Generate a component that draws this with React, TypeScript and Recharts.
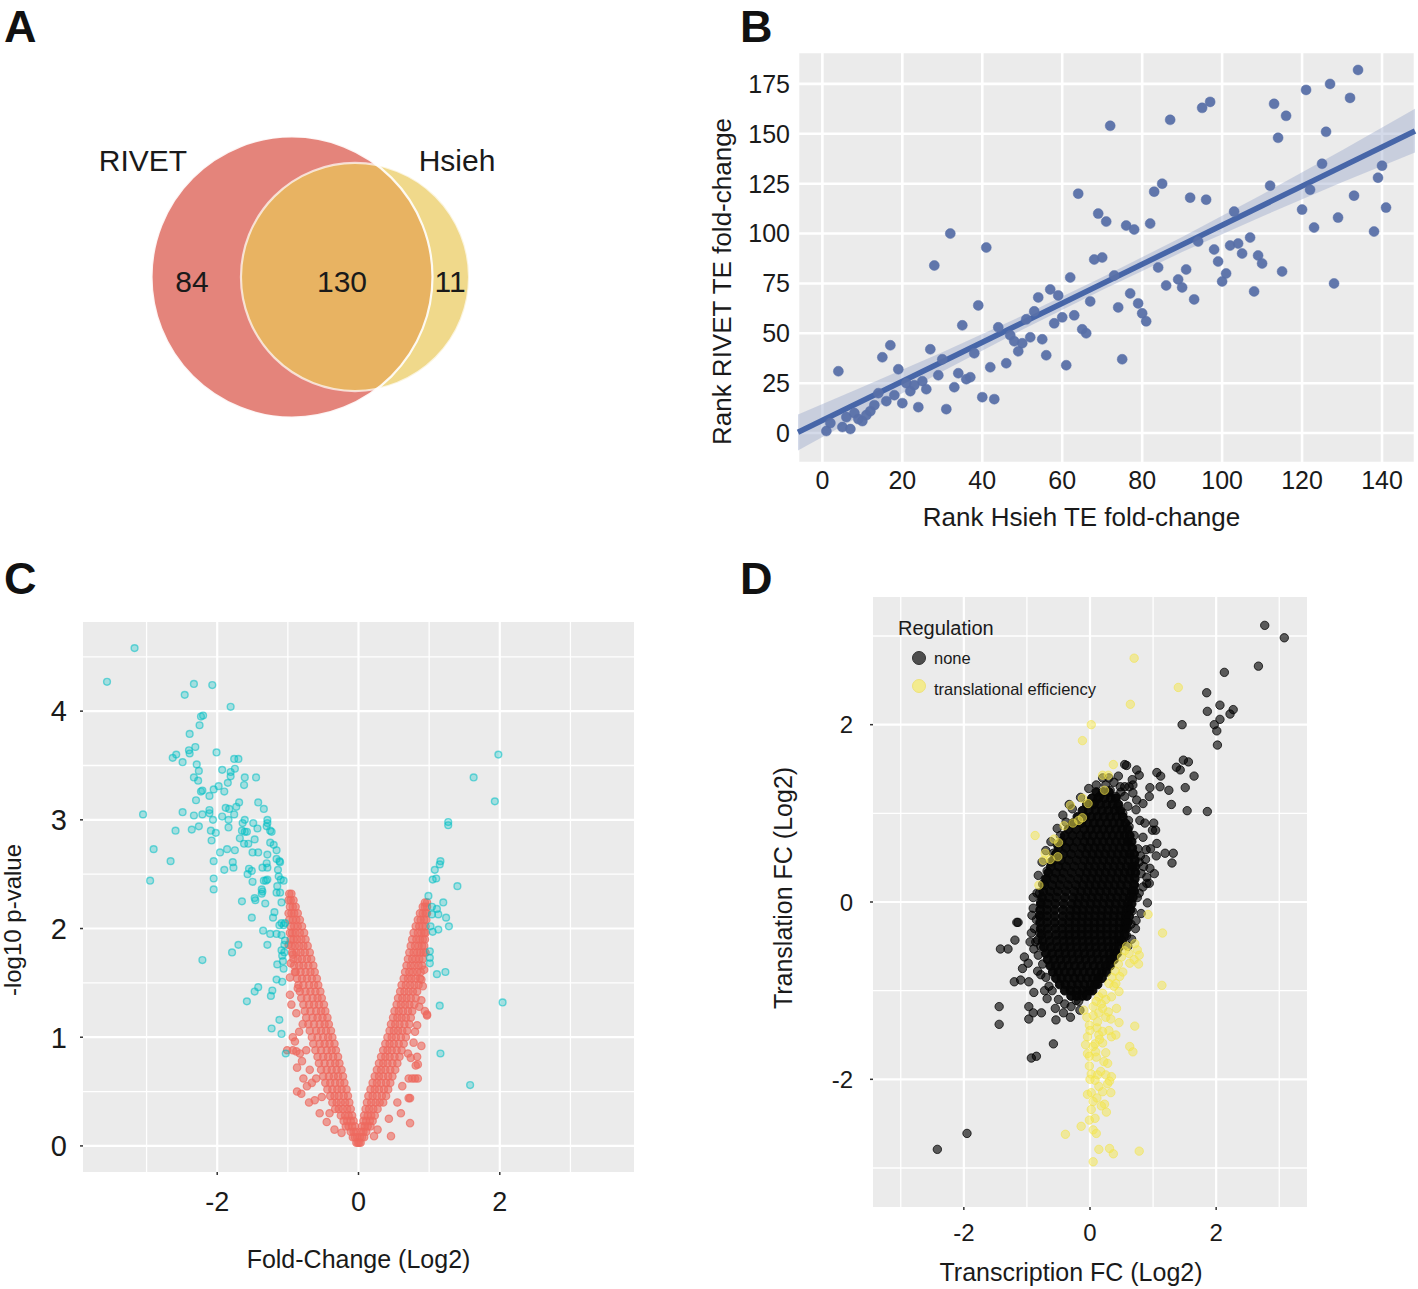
import React from 'react'
import {
  ScatterChart,
  Scatter,
  ComposedChart,
  Area,
  Line,
  XAxis,
  YAxis,
  ZAxis,
  CartesianGrid,
  Legend,
} from 'recharts'

const FONT = '"Liberation Sans", Arial, Helvetica, sans-serif'
const INK = '#1a1a1a'
const PANEL_BG = '#EBEBEB'

// ---------- A: Venn (set sizes and layout)
const vennSets = [
  { name: 'RIVET', size: 214, x: 0, y: 0 },
  { name: 'Hsieh', size: 141, x: 63, y: 0 },
]
const vennNames = [
  { label: 'RIVET', x: -149, y: 117 },
  { label: 'Hsieh', x: 165, y: 117 },
]
const vennCounts = [
  { label: '84', x: -100, y: -4 },
  { label: '130', x: 50, y: -4 },
  { label: '11', x: 158, y: -4 },
]

// ---------- B: rank vs rank  [Hsieh rank, RIVET rank]
const rankPairs = [
  [1, 1], [2, 5], [4, 31], [5, 3], [6, 8], [7, 2], [8, 10], [9, 7], [10, 6], [11, 9], [12, 11], [13, 14],
  [14, 20], [15, 38], [16, 16], [17, 44], [18, 19], [19, 32], [20, 15], [21, 25], [22, 21], [23, 24],
  [24, 13], [25, 26], [26, 22], [27, 42], [28, 84], [29, 29], [30, 37], [31, 12], [32, 100], [33, 23],
  [34, 30], [35, 54], [36, 27], [37, 28], [38, 40], [39, 64], [40, 18], [41, 93], [42, 33], [43, 17],
  [44, 53], [46, 35], [47, 49], [48, 46], [49, 41], [50, 45], [51, 57], [52, 48], [53, 61], [54, 68],
  [55, 47], [56, 39], [57, 72], [58, 55], [59, 69], [60, 58], [61, 34], [62, 78], [63, 59], [64, 120],
  [65, 52], [66, 50], [67, 66], [68, 87], [69, 110], [70, 88], [71, 106], [72, 154], [73, 79], [74, 63],
  [75, 37], [76, 104], [77, 70], [78, 102], [79, 65], [80, 60], [81, 56], [82, 105], [83, 121], [84, 83],
  [85, 125], [86, 74], [87, 157], [89, 77], [90, 73], [91, 82], [92, 118], [93, 67], [94, 96], [95, 163],
  [96, 117], [97, 166], [98, 92], [99, 86], [100, 76], [101, 80], [102, 94], [103, 111], [104, 95],
  [105, 90], [107, 98], [108, 71], [109, 89], [110, 85], [112, 124], [113, 165], [114, 148], [115, 81],
  [116, 159], [120, 112], [121, 172], [122, 122], [123, 103], [125, 135], [126, 151], [127, 175],
  [128, 75], [129, 108], [132, 168], [133, 119], [134, 182], [138, 101], [139, 128], [140, 134], [141, 113],
]
const fitX = [-6.1, 148.25]
const fitY = [0.4, 151.4]
const bandX = [-6.1, 10, 30, 50, 70, 90, 110, 130, 148.25]
const bandLo = [-8.7, 9.1, 30.9, 51.8, 71.7, 90.7, 108.6, 125.7, 140.6]
const bandHi = [9.3, 23.1, 40.5, 58.8, 78.1, 98.3, 119.6, 141.7, 162.6]
const rankTicksX = [0, 20, 40, 60, 80, 100, 120, 140]
const rankTicksY = [0, 25, 50, 75, 100, 125, 150, 175]

// ---------- C: volcano   significant (teal) and not significant (red)
const sigLeft = [
  [-3.17, 4.58], [-3.56, 4.27], [-2.33, 4.25], [-2.07, 4.24], [-2.46, 4.15], [-1.81, 4.04], [-2.23, 3.95],
  [-2.2, 3.96], [-2.25, 3.87], [-2.39, 3.79], [-2.31, 3.67], [-2.4, 3.64], [-2.39, 3.61], [-2.63, 3.57],
  [-2.58, 3.6], [-2.49, 3.53], [-2.01, 3.62], [-1.76, 3.56], [-1.7, 3.56], [-2.29, 3.51], [-2.26, 3.45],
  [-1.93, 3.46], [-1.81, 3.44], [-1.75, 3.47], [-1.81, 3.4], [-2.33, 3.39], [-2.27, 3.36], [-1.61, 3.39],
  [-1.62, 3.32], [-1.45, 3.39], [-1.85, 3.34], [-2.21, 3.27], [-2.23, 3.26], [-2.11, 3.22], [-2.05, 3.28],
  [-1.98, 3.31], [-1.9, 3.26], [-2.3, 3.18], [-1.42, 3.16], [-1.34, 3.1], [-1.69, 3.16], [-1.73, 3.12],
  [-1.88, 3.11], [-1.83, 3.1], [-1.76, 3.05], [-1.93, 3.03], [-1.84, 3.0], [-2.11, 3.09], [-2.11, 3.06],
  [-2.21, 3.05], [-2.33, 3.04], [-2.49, 3.07], [-3.05, 3.05], [-2.06, 3.0], [-1.61, 3.0], [-1.64, 2.97],
  [-1.49, 2.97], [-1.29, 3.0], [-1.29, 2.97], [-1.3, 2.94], [-1.25, 2.9], [-1.23, 2.89], [-1.43, 2.92],
  [-1.65, 2.9], [-1.61, 2.89], [-1.58, 2.89], [-1.84, 2.93], [-2.26, 2.94], [-2.36, 2.91], [-2.59, 2.9],
  [-2.09, 2.9], [-2.02, 2.88], [-2.08, 2.81], [-1.68, 2.83], [-1.47, 2.82], [-1.62, 2.78], [-1.56, 2.78],
  [-1.25, 2.79], [-1.2, 2.77], [-1.16, 2.72], [-2.9, 2.73], [-2.66, 2.62], [-1.96, 2.7], [-1.86, 2.73],
  [-1.75, 2.72], [-1.5, 2.7], [-1.42, 2.7], [-1.29, 2.68], [-1.16, 2.64], [-1.12, 2.62], [-1.11, 2.61],
  [-2.05, 2.62], [-1.78, 2.61], [-1.77, 2.56], [-1.9, 2.54], [-1.36, 2.56], [-1.3, 2.6], [-1.29, 2.56],
  [-1.55, 2.55], [-1.51, 2.53], [-1.57, 2.5], [-1.14, 2.54], [-1.13, 2.48], [-1.1, 2.45], [-1.06, 2.44],
  [-2.95, 2.44], [-2.05, 2.46], [-2.05, 2.36], [-1.5, 2.43], [-1.34, 2.44], [-1.31, 2.44], [-1.29, 2.45],
  [-1.37, 2.36], [-1.36, 2.34], [-1.37, 2.32], [-1.15, 2.39], [-1.16, 2.33], [-1.11, 2.33], [-1.09, 2.24],
  [-1.32, 2.23], [-1.47, 2.28], [-1.46, 2.26], [-1.65, 2.25], [-1.51, 2.1], [-1.19, 2.15], [-1.21, 2.1],
  [-1.12, 2.03], [-1.09, 2.05], [-1.06, 2.03], [-1.04, 2.05], [-1.35, 1.98], [-1.25, 1.95], [-1.16, 1.95],
  [-1.09, 1.94], [-1.04, 1.89], [-1.05, 1.85], [-1.29, 1.85], [-1.7, 1.85], [-1.79, 1.78], [-2.21, 1.71],
  [-1.09, 1.8], [-1.05, 1.78], [-1.08, 1.75], [-1.07, 1.7], [-1.15, 1.67], [-1.06, 1.63], [-1.16, 1.53],
  [-1.08, 1.51], [-1.42, 1.46], [-1.47, 1.42], [-1.58, 1.33], [-1.22, 1.43], [-1.24, 1.38], [-1.12, 1.16],
  [-1.23, 1.08], [-1.09, 1.03], [-1.03, 0.85],
]
const sigRight = [
  [1.98, 3.6], [1.63, 3.39], [1.93, 3.17], [1.27, 2.98], [1.27, 2.95], [1.16, 2.62], [1.15, 2.59],
  [1.08, 2.54], [1.05, 2.45], [1.1, 2.46], [1.4, 2.39], [0.99, 2.3], [1.2, 2.24], [1.04, 2.2], [1.11, 2.18],
  [1.04, 2.13], [1.13, 2.13], [1.24, 2.1], [1.28, 2.02], [1.02, 2.02], [1.05, 1.97], [1.13, 1.99],
  [1.01, 1.79], [1.01, 1.73], [1.01, 1.68], [1.11, 1.58], [1.23, 1.6], [1.15, 1.29], [2.04, 1.32],
  [1.16, 0.85], [1.58, 0.56],
]
// dense arms of the V, one row per p-value level: [y, x values]
const nsLeftRows = [
  [0.03, [-0.01, -0.03]], [0.08, [-0.02, -0.05, -0.08]], [0.13, [-0.04, -0.07, -0.11]],
  [0.18, [-0.05, -0.09, -0.14, -0.18]], [0.23, [-0.07, -0.11, -0.16, -0.21]],
  [0.28, [-0.09, -0.14, -0.19, -0.25]], [0.34, [-0.11, -0.16, -0.22, -0.28, -0.33]],
  [0.4, [-0.13, -0.19, -0.25, -0.31, -0.37]], [0.46, [-0.15, -0.21, -0.28, -0.34, -0.4]],
  [0.52, [-0.17, -0.24, -0.3, -0.37, -0.44]], [0.58, [-0.2, -0.26, -0.33, -0.4, -0.47]],
  [0.64, [-0.22, -0.29, -0.35, -0.42, -0.5]], [0.7, [-0.24, -0.31, -0.38, -0.45, -0.53]],
  [0.76, [-0.27, -0.33, -0.4, -0.48, -0.56]], [0.82, [-0.29, -0.36, -0.43, -0.5, -0.58]],
  [0.88, [-0.32, -0.38, -0.45, -0.53, -0.61]], [0.94, [-0.34, -0.41, -0.48, -0.55, -0.64]],
  [1.0, [-0.37, -0.43, -0.5, -0.58, -0.66]], [1.06, [-0.39, -0.46, -0.53, -0.6, -0.69]],
  [1.12, [-0.42, -0.48, -0.55, -0.63, -0.71]], [1.18, [-0.44, -0.51, -0.58, -0.65, -0.74]],
  [1.24, [-0.47, -0.53, -0.6, -0.68, -0.76]], [1.3, [-0.49, -0.56, -0.63, -0.7, -0.78]],
  [1.36, [-0.52, -0.58, -0.65, -0.73, -0.81]], [1.42, [-0.54, -0.61, -0.68, -0.75, -0.83]],
  [1.48, [-0.57, -0.63, -0.7, -0.78, -0.85]], [1.54, [-0.59, -0.66, -0.73, -0.8, -0.87]],
  [1.6, [-0.62, -0.68, -0.75, -0.82, -0.89]], [1.66, [-0.64, -0.71, -0.78, -0.84, -0.91]],
  [1.72, [-0.67, -0.73, -0.8, -0.86, -0.92]], [1.78, [-0.69, -0.76, -0.82, -0.88, -0.94]],
  [1.84, [-0.72, -0.78, -0.84, -0.9, -0.95]], [1.9, [-0.75, -0.81, -0.87, -0.92, -0.96]],
  [1.96, [-0.77, -0.83, -0.89, -0.94, -0.97]], [2.02, [-0.8, -0.86, -0.91, -0.96]],
  [2.08, [-0.83, -0.88, -0.93, -0.98]], [2.14, [-0.86, -0.91, -0.95, -0.99]],
  [2.2, [-0.89, -0.93, -0.97]], [2.26, [-0.92, -0.96, -0.99]], [2.32, [-0.95, -0.98]],
]
const nsRightRows = [
  [0.03, [0.01, 0.03]], [0.08, [0.02, 0.05, 0.08]], [0.13, [0.04, 0.07, 0.11]],
  [0.18, [0.05, 0.09, 0.13, 0.17]], [0.23, [0.07, 0.11, 0.16, 0.2]], [0.28, [0.08, 0.13, 0.18, 0.23]],
  [0.34, [0.1, 0.15, 0.21, 0.27]], [0.4, [0.12, 0.18, 0.24, 0.3, 0.35]],
  [0.46, [0.14, 0.2, 0.26, 0.33, 0.39]], [0.52, [0.17, 0.23, 0.29, 0.36, 0.42]],
  [0.58, [0.2, 0.26, 0.32, 0.39, 0.45]], [0.64, [0.23, 0.29, 0.35, 0.42, 0.48]],
  [0.7, [0.26, 0.32, 0.38, 0.45, 0.52]], [0.76, [0.29, 0.35, 0.41, 0.48, 0.55]],
  [0.82, [0.32, 0.38, 0.44, 0.51, 0.58]], [0.88, [0.35, 0.41, 0.47, 0.54, 0.61]],
  [0.94, [0.38, 0.44, 0.5, 0.57, 0.64]], [1.0, [0.41, 0.47, 0.53, 0.6, 0.67]],
  [1.06, [0.44, 0.5, 0.56, 0.62, 0.69]], [1.12, [0.46, 0.52, 0.58, 0.65, 0.72]],
  [1.18, [0.49, 0.55, 0.61, 0.67, 0.74]], [1.24, [0.51, 0.57, 0.63, 0.7, 0.76]],
  [1.3, [0.54, 0.6, 0.66, 0.72, 0.79]], [1.36, [0.56, 0.62, 0.68, 0.74, 0.81]],
  [1.42, [0.59, 0.65, 0.71, 0.77, 0.83]], [1.48, [0.61, 0.67, 0.73, 0.79, 0.85]],
  [1.54, [0.64, 0.7, 0.75, 0.81, 0.87]], [1.6, [0.66, 0.72, 0.77, 0.83, 0.88]],
  [1.66, [0.68, 0.74, 0.79, 0.85, 0.9]], [1.72, [0.7, 0.76, 0.81, 0.86, 0.91]],
  [1.78, [0.72, 0.78, 0.83, 0.88, 0.92]], [1.84, [0.74, 0.8, 0.85, 0.9, 0.93]],
  [1.9, [0.76, 0.82, 0.87, 0.91, 0.94]], [1.96, [0.78, 0.84, 0.89, 0.93, 0.95]],
  [2.02, [0.81, 0.86, 0.91, 0.95]], [2.08, [0.84, 0.88, 0.93, 0.96]], [2.14, [0.87, 0.91, 0.95, 0.97]],
  [2.2, [0.91, 0.94, 0.97]], [2.24, [0.94, 0.97]],
]
const nsScatter = [
  [-0.88, 1.22], [-0.84, 1.05], [-1.01, 0.88], [-0.93, 0.88], [-0.88, 0.87], [-0.83, 0.85], [-0.87, 0.72],
  [-0.87, 0.5], [-0.81, 0.48], [-0.62, 0.42], [-0.73, 0.55], [-0.66, 0.58], [-0.97, 1.55], [-0.97, 1.39],
  [-0.34, 0.15], [-0.55, 0.3], [-0.45, 0.22], [-0.78, 0.62], [-0.93, 1.0], [-0.95, 1.3], [-0.7, 0.4],
  [-0.6, 0.62], [-0.9, 0.96], [-0.8, 0.78], [-0.96, 1.68], [-0.99, 1.85], [-0.74, 0.88], [-0.79, 1.12],
  [-0.86, 1.45], [-0.69, 0.7], [-0.52, 0.45], [-0.41, 0.3], [-0.24, 0.12], [-0.9, 1.6], [-0.93, 1.76],
  [0.73, 0.21], [0.73, 0.44], [0.84, 0.62], [0.8, 0.62], [0.83, 0.82], [0.84, 0.75], [0.89, 0.92],
  [0.97, 1.21], [0.83, 1.11], [0.89, 1.34], [0.91, 1.47], [0.89, 1.53], [0.46, 0.09], [0.22, 0.09],
  [0.27, 0.15], [0.71, 0.44], [0.81, 0.74], [0.74, 0.81], [0.76, 0.62], [0.71, 0.62], [0.94, 1.24],
  [0.97, 1.2], [0.6, 0.3], [0.62, 0.55], [0.78, 0.95], [0.55, 0.4], [0.43, 0.25], [0.7, 0.85],
  [0.8, 1.05], [0.86, 1.28], [0.93, 1.62], [0.95, 1.78],
]
const volcanoTicksX = [-2, 0, 2]
const volcanoTicksY = [0, 1, 2, 3, 4]

// ---------- D: transcription vs translation fold change
const noneOutliers = [
  [2.77, 3.12], [3.08, 2.98], [2.67, 2.66], [2.13, 2.59], [1.85, 2.36], [1.86, 2.15], [2.06, 2.22],
  [2.27, 2.17], [2.22, 2.12], [2.06, 2.06], [1.97, 2.0], [2.01, 1.93], [2.02, 1.77], [1.46, 2.0],
  [1.56, 1.58], [1.48, 1.6], [1.37, 1.52], [1.43, 1.49], [1.65, 1.42], [1.51, 1.29], [1.54, 1.03],
  [1.86, 1.02], [1.29, 1.1], [1.25, 1.26], [1.11, 1.3], [0.95, 1.29], [1.06, 1.46], [1.12, 1.42],
  [0.74, 1.49], [0.78, 1.43], [0.58, 1.54], [0.55, 1.55], [0.67, 1.38], [0.68, 1.32], [0.49, 1.24],
  [1.19, 0.55], [1.32, 0.55], [1.3, 0.44], [1.05, 0.52], [1.02, 0.32], [0.94, 0.21], [0.81, -0.13],
  [0.91, -0.01], [-0.71, 0.26], [-0.84, 0.1], [-0.9, -0.07], [-1.16, -0.23],
  [-2.42, -2.79], [-1.95, -2.61], [-0.58, -1.6], [-0.93, -1.76], [-0.85, -1.74], [-1.44, -1.18],
  [-1.44, -1.38], [-0.97, -1.18], [-0.97, -1.32], [-0.77, -1.25], [-0.9, -1.25], [-0.54, -1.33],
  [-0.31, -1.3], [-1.42, -0.53], [-1.3, -0.53], [-1.19, -0.43], [-1.14, -0.23], [-1.2, -0.9],
  [-1.1, -0.88], [-0.97, -0.9], [-0.89, -1.02], [-0.68, -1.09], [-0.95, -0.45], [-0.83, -0.43],
  [-0.89, -0.53], [-1.04, -0.62], [-0.98, -0.69], [-1.07, -0.75], [-0.83, -0.78], [-0.22, -1.11],
  [-0.04, -1.0], [-0.16, -1.22],
  [0.73, 1.04], [0.61, 0.92], [0.79, 0.92], [0.87, 0.89], [1.01, 0.89], [0.99, 0.81], [0.84, 0.73],
  [1.06, 0.66], [0.89, 0.59], [1.04, 0.81], [0.55, 1.19], [0.44, 1.08], [0.07, 1.11], [0.15, 1.19],
  [0.32, 1.26], [0.41, 1.19], [0.68, 1.23], [0.84, 1.11], [0.94, 1.19], [0.81, 0.32], [0.9, 0.28],
  [0.84, 0.17], [0.75, 0.05], [0.9, 0.21], [0.67, -0.1], [0.73, -0.21], [0.78, 0.45], [0.85, 0.4],
  [0.95, 0.38], [0.76, 0.6], [0.7, 0.75], [0.62, 0.85], [0.52, 1.0], [0.6, 1.08], [0.48, 1.3],
  [0.38, 1.35], [0.25, 1.32], [0.2, 1.4], [0.45, 1.42], [0.62, 1.3], [0.72, -0.3], [0.66, -0.42],
  [0.6, -0.5], [-0.85, -0.2], [-0.8, -0.35], [-0.88, -0.3], [-0.78, 0.0], [-0.82, -0.6],
  [-0.75, -0.7], [-0.7, -0.85], [-0.6, -1.0], [-0.5, -1.1], [-0.4, -1.15], [-0.75, 0.2], [-0.68, 0.35],
  [-0.58, 0.55], [-0.47, 0.75], [-0.38, 0.9], [-0.28, 1.05], [-0.15, 1.18], [-0.02, 1.28], [-0.8, 0.1],
  [-0.92, -0.15], [-0.78, -0.5], [-0.65, -0.95], [-0.3, -1.18], [-0.18, -1.12], [-0.62, 0.45], [-0.52, 0.65],
  [-0.82, 0.3], [-0.76, 0.45], [-0.7, 0.58], [-0.86, -0.45], [-0.93, -0.35], [-0.8, -0.15], [-0.9, 0.05],
  [-0.78, -0.82], [-0.72, -1.0], [-0.55, -1.2], [-0.42, -1.25], [-0.62, 0.68], [-0.52, 0.83],
  [-0.43, 0.98], [-0.33, 1.1], [0.1, 1.32], [0.3, 1.4], [0.55, 1.3], [0.74, 1.15], [0.8, 0.52],
  [0.88, 0.48], [0.96, 0.6], [0.7, 0.2], [0.78, 0.1], [0.65, -0.25], [0.58, -0.38],
]
// the solid core of the cloud, one row per level: [y, x values]
const noneCoreRows = [
  [1.24, [0.1, 0.2, 0.3]],
  [1.17, [0.03, 0.13, 0.23, 0.33, 0.41]],
  [1.1, [-0.05, 0.06, 0.16, 0.26, 0.36, 0.45]],
  [1.03, [-0.12, -0.02, 0.09, 0.19, 0.29, 0.39, 0.48]],
  [0.96, [-0.2, -0.08, 0.02, 0.12, 0.22, 0.32, 0.42, 0.52]],
  [0.89, [-0.27, -0.14, -0.04, 0.06, 0.16, 0.27, 0.37, 0.47, 0.56]],
  [0.82, [-0.34, -0.22, -0.09, 0.01, 0.11, 0.21, 0.31, 0.41, 0.51, 0.6]],
  [0.75, [-0.4, -0.28, -0.15, -0.05, 0.05, 0.16, 0.26, 0.36, 0.46, 0.55, 0.63]],
  [0.68, [-0.45, -0.33, -0.21, -0.09, 0.01, 0.11, 0.21, 0.31, 0.41, 0.51, 0.6, 0.66]],
  [0.61, [-0.5, -0.38, -0.26, -0.13, -0.03, 0.07, 0.17, 0.27, 0.37, 0.47, 0.57, 0.67]],
  [0.54, [-0.54, -0.42, -0.3, -0.17, -0.06, 0.04, 0.14, 0.24, 0.34, 0.44, 0.54, 0.63, 0.7]],
  [0.47, [-0.58, -0.46, -0.34, -0.21, -0.09, 0.01, 0.11, 0.21, 0.31, 0.41, 0.51, 0.61, 0.71]],
  [0.4, [-0.62, -0.5, -0.38, -0.25, -0.12, -0.02, 0.08, 0.18, 0.28, 0.38, 0.48, 0.58, 0.67, 0.72]],
  [0.33, [-0.66, -0.54, -0.42, -0.29, -0.16, -0.05, 0.05, 0.15, 0.25, 0.35, 0.45, 0.55, 0.64, 0.72]],
  [0.26, [-0.69, -0.57, -0.45, -0.32, -0.19, -0.08, 0.02, 0.12, 0.22, 0.32, 0.42, 0.52, 0.62, 0.71]],
  [0.19, [-0.72, -0.6, -0.48, -0.35, -0.22, -0.11, -0.01, 0.09, 0.19, 0.29, 0.39, 0.49, 0.59, 0.7]],
  [0.12, [-0.74, -0.63, -0.51, -0.38, -0.25, -0.14, -0.04, 0.06, 0.16, 0.26, 0.36, 0.46, 0.56, 0.66, 0.7]],
  [0.05, [-0.76, -0.65, -0.53, -0.4, -0.27, -0.17, -0.07, 0.03, 0.13, 0.23, 0.33, 0.43, 0.53, 0.63, 0.68]],
  [-0.02, [-0.78, -0.67, -0.55, -0.42, -0.29, -0.19, -0.09, 0.01, 0.11, 0.21, 0.31, 0.41, 0.51, 0.6, 0.66]],
  [-0.09, [-0.79, -0.68, -0.56, -0.43, -0.31, -0.21, -0.11, -0.01, 0.09, 0.19, 0.29, 0.39, 0.49, 0.58, 0.64]],
  [-0.16, [-0.79, -0.68, -0.56, -0.43, -0.32, -0.22, -0.12, -0.02, 0.08, 0.18, 0.28, 0.38, 0.48, 0.57, 0.62]],
  [-0.23, [-0.79, -0.68, -0.56, -0.44, -0.33, -0.23, -0.13, -0.03, 0.07, 0.17, 0.27, 0.37, 0.47, 0.56, 0.6]],
  [-0.3, [-0.78, -0.67, -0.55, -0.44, -0.33, -0.23, -0.13, -0.03, 0.07, 0.17, 0.27, 0.37, 0.47, 0.55, 0.58]],
  [-0.37, [-0.77, -0.66, -0.54, -0.43, -0.33, -0.23, -0.13, -0.03, 0.07, 0.17, 0.27, 0.37, 0.46, 0.55]],
  [-0.44, [-0.75, -0.64, -0.53, -0.42, -0.32, -0.22, -0.12, -0.02, 0.08, 0.18, 0.28, 0.38, 0.46, 0.51]],
  [-0.51, [-0.73, -0.62, -0.51, -0.41, -0.31, -0.21, -0.11, -0.01, 0.09, 0.19, 0.29, 0.38, 0.46]],
  [-0.58, [-0.7, -0.6, -0.49, -0.39, -0.29, -0.19, -0.09, 0.01, 0.11, 0.21, 0.31, 0.39, 0.43]],
  [-0.65, [-0.67, -0.57, -0.47, -0.37, -0.27, -0.17, -0.07, 0.03, 0.13, 0.23, 0.32, 0.38]],
  [-0.72, [-0.63, -0.54, -0.44, -0.34, -0.24, -0.14, -0.04, 0.06, 0.16, 0.25, 0.32]],
  [-0.79, [-0.59, -0.5, -0.4, -0.3, -0.2, -0.1, 0.0, 0.1, 0.19, 0.26]],
  [-0.86, [-0.54, -0.45, -0.35, -0.25, -0.15, -0.05, 0.05, 0.13, 0.19]],
  [-0.93, [-0.48, -0.39, -0.29, -0.19, -0.09, 0.01, 0.08, 0.12]],
  [-1.0, [-0.4, -0.31, -0.21, -0.11, -0.01, 0.04]],
  [-1.06, [-0.3, -0.21, -0.12, -0.05]],
]
const tePoints = [
  [0.7, 2.75], [1.4, 2.42], [0.64, 2.23], [0.02, 2.0], [-0.12, 1.82], [0.37, 1.55], [0.2, 1.43],
  [0.29, 1.43], [0.23, 1.26], [-0.12, 1.17], [-0.03, 1.11], [-0.31, 1.09], [-0.41, 0.86], [-0.27, 0.89],
  [-0.18, 0.92], [-0.12, 0.95], [-0.87, 0.75], [-0.57, 0.71], [-0.5, 0.67], [-0.71, 0.55], [-0.74, 0.47],
  [-0.63, 0.48], [-0.51, 0.51], [-0.81, 0.19], [0.92, -0.14], [1.15, -0.35],
  [0.71, -0.47], [0.75, -0.54], [0.78, -0.6], [0.7, -0.65], [0.63, -0.69], [0.77, -0.7], [0.52, -0.79],
  [0.47, -0.84], [0.41, -0.92], [1.14, -0.94], [0.46, -1.01], [0.34, -1.07], [0.25, -1.1], [0.14, -1.07],
  [0.05, -1.18], [-0.1, -1.22], [0.14, -1.25], [0.29, -1.24], [0.46, -1.36], [0.71, -1.4], [-0.01, -1.39],
  [0.11, -1.42], [0.2, -1.46], [-0.04, -1.52], [0.14, -1.5], [0.34, -1.52], [0.41, -1.5], [-0.07, -1.61],
  [0.05, -1.63], [0.2, -1.59], [0.63, -1.63], [0.68, -1.69], [-0.04, -1.71], [0.09, -1.69], [-0.01, -1.74],
  [0.28, -1.82], [-0.01, -1.85], [0.02, -1.94], [0.17, -1.91], [0.25, -1.95], [0.34, -1.97], [0.31, -2.02],
  [0.08, -2.01], [0.14, -2.08], [0.2, -2.14], [0.33, -2.15], [-0.04, -2.17], [0.02, -2.15], [0.11, -2.21],
  [0.23, -2.28], [0.26, -2.37], [0.02, -2.34], [-0.01, -2.46], [0.08, -2.44], [-0.14, -2.53], [-0.39, -2.62],
  [0.05, -2.57], [0.1, -2.61], [0.14, -2.79], [0.31, -2.78], [0.37, -2.84], [0.78, -2.81], [0.05, -2.93],
  [0.55, -0.55], [0.5, -0.62], [0.45, -0.7], [0.4, -0.78], [0.35, -0.85], [0.3, -0.92], [0.2, -1.03],
  [0.1, -1.12], [0.58, -0.5], [0.62, -0.58], [0.38, -0.95], [0.18, -1.15], [0.05, -1.28], [0.2, -1.2],
  [0.25, -1.3], [0.12, -1.35], [0.3, -1.45], [0.0, -1.45], [0.15, -1.55], [0.1, -1.75], [0.22, -1.8],
  [0.0, -2.0], [0.12, -1.95], [0.18, -2.3], [0.05, -2.25], [0.28, -2.05], [0.25, -1.7], [0.42, -1.2],
  [0.33, -1.32], [0.08, -1.6], [-0.05, -1.3],
]
const fcTicks = [-2, 0, 2]

// ---------- helpers
const pairsToPoints = (pairs: number[][]) => pairs.map(([x, y]) => ({ x, y }))
const rowsToPoints = (rows: any[]) =>
  rows.flatMap(([y, xs]: [number, number[]]) => xs.map((x) => ({ x, y })))

const dot =
  (fill: string, r: number, fillOpacity: number, strokeOpacity: number, strokeWidth = 1) =>
  (p: any) =>
    p.cx == null ? <g /> : (
      <circle
        cx={p.cx}
        cy={p.cy}
        r={r}
        fill={fill}
        fillOpacity={fillOpacity}
        stroke={fill}
        strokeOpacity={strokeOpacity}
        strokeWidth={strokeWidth}
      />
    )

const yTitle = (text: string, x: number, dy: number, size: number) => ({
  content: (props: any) => {
    const vb = props.viewBox || { y: 0, height: 0 }
    const cy = vb.y + vb.height / 2 + dy
    return (
      <text
        x={x}
        y={cy}
        transform={`rotate(-90, ${x}, ${cy})`}
        textAnchor="middle"
        dominantBaseline="central"
        fontSize={size}
        fontFamily={FONT}
        fill={INK}
      >
        {text}
      </text>
    )
  },
})

const xTitle = (text: string, dx: number, dy: number, size: number) => ({
  content: (props: any) => {
    const vb = props.viewBox || { x: 0, y: 0, width: 0 }
    return (
      <text
        x={vb.x + vb.width / 2 + dx}
        y={vb.y + dy}
        textAnchor="middle"
        dominantBaseline="central"
        fontSize={size}
        fontFamily={FONT}
        fill={INK}
      >
        {text}
      </text>
    )
  },
})

const tickStyle = (size: number) => ({ fill: INK, fontSize: size, fontFamily: FONT })

const PanelLetter = ({ letter, left, top }: { letter: string; left: number; top: number }) => (
  <div
    style={{
      position: 'absolute',
      left,
      top,
      fontFamily: FONT,
      fontWeight: 700,
      fontSize: 45,
      lineHeight: 'normal',
      color: '#111',
    }}
  >
    {letter}
  </div>
)

// ---------- panels
function VennPanel() {
  const circle = (fill: string, fillOpacity: number, stroke: string, strokeOpacity: number) => (p: any) => {
    const r = p.width ? p.width / 2 : Math.sqrt((p.size || 0) / Math.PI)
    return (
      <circle
        cx={p.cx}
        cy={p.cy}
        r={r}
        fill={fill}
        fillOpacity={fillOpacity}
        stroke={stroke}
        strokeOpacity={strokeOpacity}
        strokeWidth={2.2}
      />
    )
  }
  const label = (p: any) => (
    <text
      x={p.cx}
      y={p.cy}
      textAnchor="middle"
      dominantBaseline="central"
      fontSize={30}
      fontFamily={FONT}
      fill={INK}
    >
      {p.payload.label}
    </text>
  )
  return (
    <ScatterChart width={470} height={320} margin={{ top: 0, right: 0, bottom: 0, left: 0 }}>
      <XAxis type="number" dataKey="x" domain={[-240, 230]} hide />
      <YAxis type="number" dataKey="y" domain={[-160, 160]} hide />
      <ZAxis type="number" dataKey="size" domain={[0, 214]} range={[0, Math.PI * 140.5 * 140.5]} />
      <Scatter data={[vennSets[0]]} shape={circle('#E4847B', 1, 'none', 0)} isAnimationActive={false} />
      <Scatter data={[vennSets[1]]} shape={circle('#E9C857', 0.69, '#ffffff', 0.7)} isAnimationActive={false} />
      <Scatter data={[vennSets[0]]} shape={circle('none', 0, '#ffffff', 0.9)} isAnimationActive={false} />
      <Scatter data={vennNames} shape={label} isAnimationActive={false} />
      <Scatter data={vennCounts} shape={label} isAnimationActive={false} />
    </ScatterChart>
  )
}

function RankPanel() {
  const points = pairsToPoints(rankPairs)
  const fit = fitX.map((x, i) => ({ x, fit: fitY[i] }))
  const band = bandX.map((x, i) => ({ x, band: [bandLo[i], bandHi[i]] }))
  return (
    <ComposedChart width={718} height={520} margin={{ top: 12, right: 3, bottom: 12, left: 0 }}>
      <CartesianGrid fill={PANEL_BG} stroke="#ffffff" strokeWidth={2.6} />
      <XAxis
        type="number"
        dataKey="x"
        domain={[-6.1, 148.25]}
        ticks={rankTicksX}
        interval={0}
        height={85}
        axisLine={false}
        tickLine={false}
        tickSize={0}
        tickMargin={8}
        tick={tickStyle(25)}
        label={xTitle('Rank Hsieh TE fold-change', -25, 54, 26)}
      />
      <YAxis
        type="number"
        dataKey="y"
        domain={[-15, 191]}
        ticks={rankTicksY}
        interval={0}
        width={98}
        axisLine={false}
        tickLine={false}
        tickSize={0}
        tickMargin={8}
        tick={tickStyle(25)}
        label={yTitle('Rank RIVET TE fold-change', 22, 24, 26)}
      />
      <Scatter data={points} shape={dot('#5870A8', 5, 0.95, 0.95, 0.5)} isAnimationActive={false} />
      <Area
        data={band}
        dataKey="band"
        type="linear"
        stroke="none"
        fill="#98A6CA"
        fillOpacity={0.42}
        dot={false}
        activeDot={false}
        isAnimationActive={false}
      />
      <Line
        data={fit}
        dataKey="fit"
        type="linear"
        stroke="#4766A8"
        strokeWidth={5.5}
        dot={false}
        activeDot={false}
        isAnimationActive={false}
      />
    </ComposedChart>
  )
}

function VolcanoPanel() {
  const ns = [...rowsToPoints(nsLeftRows), ...rowsToPoints(nsRightRows), ...pairsToPoints(nsScatter)]
  const sig = [...pairsToPoints(sigLeft), ...pairsToPoints(sigRight)]
  return (
    <ScatterChart width={660} height={689} margin={{ top: 22, right: 26, bottom: 12, left: 0 }}>
      <CartesianGrid
        fill={PANEL_BG}
        stroke="#ffffff"
        strokeWidth={1.3}
        verticalValues={[-3, -1, 1, 3]}
        horizontalValues={[0.5, 1.5, 2.5, 3.5, 4.5]}
      />
      <CartesianGrid fill="none" stroke="#ffffff" strokeWidth={2.2} verticalValues={volcanoTicksX} horizontalValues={volcanoTicksY} />
      <XAxis
        type="number"
        dataKey="x"
        domain={[-3.9, 3.9]}
        ticks={volcanoTicksX}
        interval={0}
        height={105}
        axisLine={false}
        tickLine={{ stroke: '#333', strokeWidth: 1.5 }}
        tickSize={3}
        tickMargin={17}
        tick={tickStyle(27)}
        label={xTitle('Fold-Change (Log2)', 0, 87, 25)}
      />
      <YAxis
        type="number"
        dataKey="y"
        domain={[-0.24, 4.82]}
        ticks={volcanoTicksY}
        interval={0}
        width={83}
        axisLine={false}
        tickLine={{ stroke: '#333', strokeWidth: 1.5 }}
        tickSize={3}
        tickMargin={13}
        tick={tickStyle(29)}
        label={yTitle('-log10 p-value', 12, 23, 24)}
      />
      <Scatter data={ns} shape={dot('#EE6A5F', 3.7, 0.62, 0.7, 1.2)} isAnimationActive={false} />
      <Scatter data={sig} shape={dot('#00BFC4', 3.4, 0.3, 0.55, 1.4)} isAnimationActive={false} />
    </ScatterChart>
  )
}

function RegulationLegend() {
  return (
    <div style={{ position: 'relative', width: 260, height: 90, fontFamily: FONT, color: INK }}>
      <div style={{ position: 'absolute', left: 0, top: 0, fontSize: 20, lineHeight: '24px' }}>Regulation</div>
      <svg style={{ position: 'absolute', left: 12, top: 33 }} width={18} height={50}>
        <circle cx={9} cy={9} r={6.5} fill="#4d4d4d" stroke="#333" strokeWidth={1} />
        <circle cx={9} cy={37} r={6.5} fill="#F3EB8E" stroke="#EEE27A" strokeWidth={1} />
      </svg>
      <div style={{ position: 'absolute', left: 36, top: 32, fontSize: 16.5, lineHeight: '20px' }}>none</div>
      <div style={{ position: 'absolute', left: 36, top: 63, fontSize: 16.5, lineHeight: '20px' }}>
        translational efficiency
      </div>
    </div>
  )
}

function FoldChangePanel() {
  const core = rowsToPoints(noneCoreRows)
  const halo = pairsToPoints(noneOutliers)
  const te = pairsToPoints(tePoints)
  return (
    <ScatterChart width={600} height={709} margin={{ top: 17, right: 33, bottom: 0, left: 0 }}>
      <CartesianGrid
        fill={PANEL_BG}
        stroke="#ffffff"
        strokeWidth={1.3}
        verticalValues={[-3, -1, 1, 3]}
        horizontalValues={[-3, -1, 1, 3]}
      />
      <CartesianGrid fill="none" stroke="#ffffff" strokeWidth={2.2} verticalValues={fcTicks} horizontalValues={fcTicks} />
      <XAxis
        type="number"
        dataKey="x"
        domain={[-3.44, 3.44]}
        ticks={fcTicks}
        interval={0}
        height={82}
        axisLine={false}
        tickLine={{ stroke: '#333', strokeWidth: 1.5 }}
        tickSize={3}
        tickMargin={14}
        tick={tickStyle(24)}
        label={xTitle('Transcription FC (Log2)', -19, 65, 25)}
      />
      <YAxis
        type="number"
        dataKey="y"
        domain={[-3.44, 3.44]}
        ticks={fcTicks}
        interval={0}
        width={133}
        axisLine={false}
        tickLine={{ stroke: '#333', strokeWidth: 1.5 }}
        tickSize={3}
        tickMargin={17}
        tick={tickStyle(24)}
        label={yTitle('Translation FC (Log2)', 43, -14, 25)}
      />
      <Legend
        layout="vertical"
        align="center"
        verticalAlign="middle"
        content={() => <RegulationLegend />}
        wrapperStyle={{ left: 158, top: 36, width: 260, height: 90 }}
      />
      <Scatter data={halo} shape={dot('#000000', 4.2, 0.62, 0.75)} isAnimationActive={false} />
      <Scatter data={core} shape={dot('#050505', 4.4, 0.96, 0.96)} isAnimationActive={false} />
      <Scatter data={te} shape={dot('#F4E54C', 4.2, 0.5, 0.6)} isAnimationActive={false} />
    </ScatterChart>
  )
}

export default function App() {
  return (
    <div
      style={{
        position: 'absolute',
        left: 0,
        top: 0,
        width: 1418,
        height: 1289,
        background: '#ffffff',
        overflow: 'hidden',
        fontFamily: FONT,
      }}
    >
      <PanelLetter letter="A" left={4} top={1} />
      <PanelLetter letter="B" left={740} top={1} />
      <PanelLetter letter="C" left={4} top={553} />
      <PanelLetter letter="D" left={740} top={553} />
      <div style={{ position: 'absolute', left: 52, top: 117 }}>
        <VennPanel />
      </div>
      <div style={{ position: 'absolute', left: 700, top: 40 }}>
        <RankPanel />
      </div>
      <div style={{ position: 'absolute', left: 0, top: 600 }}>
        <VolcanoPanel />
      </div>
      <div style={{ position: 'absolute', left: 740, top: 580 }}>
        <FoldChangePanel />
      </div>
    </div>
  )
}
